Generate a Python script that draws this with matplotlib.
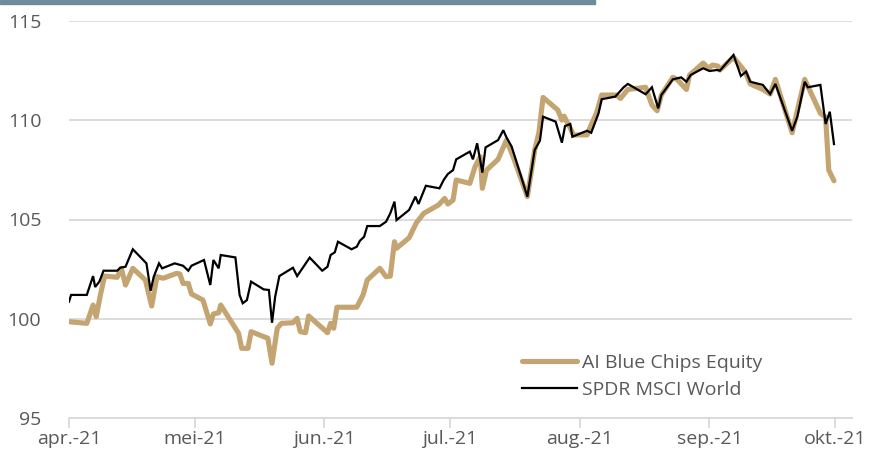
import matplotlib
matplotlib.use("Agg")
import matplotlib.pyplot as plt
import pandas as pd
from matplotlib.patches import Rectangle

# ---- data ----
ai_dates = [
    "2021-04-01 00:00", "2021-04-05 06:00", "2021-04-06 18:00", "2021-04-07 12:00",
    "2021-04-08 12:00", "2021-04-09 12:00", "2021-04-12 12:00", "2021-04-13 12:00",
    "2021-04-14 12:00", "2021-04-16 06:00", "2021-04-19 06:00", "2021-04-20 18:00",
    "2021-04-22 00:00", "2021-04-23 12:00", "2021-04-26 18:00", "2021-04-27 12:00",
    "2021-04-28 06:00", "2021-04-29 12:00", "2021-04-30 06:00", "2021-05-03 00:00",
    "2021-05-04 18:00", "2021-05-05 12:00", "2021-05-06 18:00", "2021-05-07 06:00",
    "2021-05-11 12:00", "2021-05-12 06:00", "2021-05-13 18:00", "2021-05-14 12:00",
    "2021-05-17 12:00", "2021-05-18 12:00", "2021-05-19 12:00", "2021-05-20 18:00",
    "2021-05-21 18:00", "2021-05-24 12:00", "2021-05-25 12:00", "2021-05-26 06:00",
    "2021-05-27 12:00", "2021-05-28 06:00", "2021-06-01 18:00", "2021-06-02 12:00",
    "2021-06-03 06:00", "2021-06-04 00:00", "2021-06-08 18:00", "2021-06-10 06:00",
    "2021-06-11 06:00", "2021-06-14 06:00", "2021-06-15 18:00", "2021-06-16 18:00",
    "2021-06-17 18:00", "2021-06-18 06:00", "2021-06-21 06:00", "2021-06-23 00:00",
    "2021-06-24 18:00", "2021-06-28 06:00", "2021-06-29 18:00", "2021-06-30 12:00",
    "2021-07-01 18:00", "2021-07-02 12:00", "2021-07-05 18:00", "2021-07-07 00:00",
    "2021-07-08 06:00", "2021-07-08 18:00", "2021-07-09 18:00", "2021-07-12 12:00",
    "2021-07-14 12:00", "2021-07-16 06:00", "2021-07-19 12:00", "2021-07-21 06:00",
    "2021-07-22 06:00", "2021-07-23 06:00", "2021-07-26 18:00", "2021-07-27 18:00",
    "2021-07-28 06:00", "2021-07-29 18:00", "2021-07-30 12:00", "2021-08-02 18:00",
    "2021-08-03 18:00", "2021-08-05 00:00", "2021-08-06 06:00", "2021-08-09 18:00",
    "2021-08-10 18:00", "2021-08-12 12:00", "2021-08-16 18:00", "2021-08-18 06:00",
    "2021-08-19 12:00", "2021-08-20 12:00", "2021-08-23 06:00", "2021-08-24 06:00",
    "2021-08-26 12:00", "2021-08-27 06:00", "2021-08-30 12:00", "2021-08-31 18:00",
    "2021-09-01 18:00", "2021-09-03 00:00", "2021-09-03 12:00", "2021-09-06 18:00",
    "2021-09-09 12:00", "2021-09-10 18:00", "2021-09-13 18:00", "2021-09-15 12:00",
    "2021-09-16 18:00", "2021-09-20 18:00", "2021-09-23 18:00", "2021-09-27 12:00",
    "2021-09-28 18:00", "2021-09-29 12:00", "2021-09-30 18:00",
]
ai_values = [
    99.85, 99.77, 100.69, 100.10, 101.20, 102.15, 102.09, 102.54,
    101.70, 102.54, 101.95, 100.64, 102.12, 102.04, 102.29, 102.25,
    101.78, 101.78, 101.25, 100.94, 99.74, 100.24, 100.30, 100.69,
    99.27, 98.51, 98.51, 99.35, 99.10, 99.02, 97.76, 99.52,
    99.77, 99.80, 100.02, 99.35, 99.30, 100.14, 99.30, 99.77,
    99.52, 100.58, 100.58, 101.20, 101.95, 102.54, 102.12, 102.15,
    103.88, 103.55, 104.08, 104.84, 105.31, 105.73, 106.06, 105.78,
    105.98, 106.99, 106.82, 107.66, 108.16, 106.57, 107.49, 108.03,
    109.00, 108.08, 106.15, 108.50, 109.37, 111.15, 110.52, 110.01,
    110.21, 109.60, 109.26, 109.26, 109.77, 110.35, 111.27, 111.27,
    111.10, 111.55, 111.66, 110.77, 110.48, 111.27, 112.16, 112.06,
    111.55, 112.28, 112.88, 112.62, 112.78, 112.73, 112.53, 113.17,
    112.45, 111.83, 111.55, 111.32, 112.06, 109.37, 112.06, 110.35,
    110.15, 107.49, 106.95,
]

spdr_dates = [
    "2021-04-01 00:00", "2021-04-01 12:00", "2021-04-05 06:00", "2021-04-06 18:00",
    "2021-04-07 06:00", "2021-04-08 06:00", "2021-04-09 06:00", "2021-04-12 12:00",
    "2021-04-13 06:00", "2021-04-14 12:00", "2021-04-16 06:00", "2021-04-19 12:00",
    "2021-04-20 12:00", "2021-04-21 06:00", "2021-04-22 12:00", "2021-04-23 06:00",
    "2021-04-26 06:00", "2021-04-28 06:00", "2021-04-29 12:00", "2021-04-30 06:00",
    "2021-05-03 06:00", "2021-05-04 18:00", "2021-05-05 12:00", "2021-05-06 18:00",
    "2021-05-07 06:00", "2021-05-10 18:00", "2021-05-11 18:00", "2021-05-12 12:00",
    "2021-05-13 12:00", "2021-05-14 12:00", "2021-05-17 12:00", "2021-05-18 18:00",
    "2021-05-19 12:00", "2021-05-20 06:00", "2021-05-21 06:00", "2021-05-24 12:00",
    "2021-05-25 12:00", "2021-05-28 12:00", "2021-05-31 12:00", "2021-06-01 18:00",
    "2021-06-02 12:00", "2021-06-03 12:00", "2021-06-04 06:00", "2021-06-07 12:00",
    "2021-06-08 18:00", "2021-06-09 12:00", "2021-06-10 12:00", "2021-06-11 06:00",
    "2021-06-14 06:00", "2021-06-15 18:00", "2021-06-16 18:00", "2021-06-17 18:00",
    "2021-06-18 06:00", "2021-06-21 06:00", "2021-06-22 18:00", "2021-06-23 12:00",
    "2021-06-25 06:00", "2021-06-28 12:00", "2021-06-29 12:00", "2021-06-30 12:00",
    "2021-07-01 18:00", "2021-07-02 12:00", "2021-07-05 18:00", "2021-07-06 12:00",
    "2021-07-07 12:00", "2021-07-08 18:00", "2021-07-09 12:00", "2021-07-12 12:00",
    "2021-07-13 18:00", "2021-07-14 12:00", "2021-07-15 18:00", "2021-07-19 12:00",
    "2021-07-21 06:00", "2021-07-22 12:00", "2021-07-23 06:00", "2021-07-26 06:00",
    "2021-07-27 18:00", "2021-07-28 12:00", "2021-07-29 18:00", "2021-07-30 06:00",
    "2021-08-02 18:00", "2021-08-03 18:00", "2021-08-05 12:00", "2021-08-06 06:00",
    "2021-08-09 12:00", "2021-08-11 12:00", "2021-08-12 12:00", "2021-08-16 18:00",
    "2021-08-18 06:00", "2021-08-19 18:00", "2021-08-20 12:00", "2021-08-23 06:00",
    "2021-08-25 06:00", "2021-08-26 12:00", "2021-08-27 12:00", "2021-08-30 12:00",
    "2021-09-01 00:00", "2021-09-02 18:00", "2021-09-03 12:00", "2021-09-06 18:00",
    "2021-09-08 12:00", "2021-09-09 18:00", "2021-09-10 18:00", "2021-09-13 18:00",
    "2021-09-15 12:00", "2021-09-16 18:00", "2021-09-20 18:00", "2021-09-22 00:00",
    "2021-09-23 18:00", "2021-09-24 12:00", "2021-09-27 12:00", "2021-09-28 18:00",
    "2021-09-29 18:00", "2021-09-30 18:00",
]
spdr_values = [
    100.86, 101.20, 101.20, 102.15, 101.60, 101.87, 102.42, 102.42,
    102.57, 102.62, 103.50, 102.79, 101.41, 102.12, 102.79, 102.54,
    102.79, 102.67, 102.42, 102.67, 102.96, 101.70, 102.96, 102.54,
    103.21, 103.09, 101.20, 100.78, 100.94, 101.87, 101.48, 101.45,
    99.80, 101.11, 102.15, 102.57, 102.15, 103.08, 102.42, 102.62,
    103.21, 103.35, 103.88, 103.50, 103.63, 103.93, 104.13, 104.67,
    104.67, 104.89, 105.31, 105.90, 104.97, 105.48, 106.15, 105.78,
    106.70, 106.57, 106.99, 107.29, 107.49, 108.03, 108.42, 108.03,
    108.84, 107.36, 108.63, 109.00, 109.50, 109.14, 108.67, 106.15,
    108.50, 108.97, 110.18, 109.93, 108.87, 109.71, 109.81, 109.17,
    109.47, 109.37, 110.35, 111.06, 111.19, 111.66, 111.83, 111.31,
    111.66, 110.60, 111.27, 112.06, 112.16, 111.94, 112.28, 112.62,
    112.48, 112.53, 112.50, 113.29, 112.23, 112.45, 111.94, 111.78,
    111.32, 111.83, 109.47, 110.18, 111.94, 111.66, 111.78, 109.81,
    110.43, 108.80,
]

series_names = ["AI Blue Chips Equity", "SPDR MSCI World"]
tick_dates = ["2021-04-01", "2021-05-01", "2021-06-01", "2021-07-01",
              "2021-08-01", "2021-09-01", "2021-10-01"]
tick_labels = ["apr.-21", "mei-21", "jun.-21", "jul.-21", "aug.-21", "sep.-21", "okt.-21"]
y_ticks = [95, 100, 105, 110, 115]

# ---- plot ----
gold = "#C4A571"
grid_c = "#D9D9D9"
text_c = "#595959"

plt.rcParams["font.family"] = ["Open Sans", "DejaVu Sans"]

fig = plt.figure(figsize=(8.72, 4.62), dpi=100)
ax = fig.add_axes([69 / 872, 1 - 418 / 462, (852 - 69) / 872, (418 - 21) / 462])

ai_x = pd.to_datetime(ai_dates)
sp_x = pd.to_datetime(spdr_dates)

ax.plot(ai_x, ai_values, color=gold, lw=3.7, solid_joinstyle="round",
        solid_capstyle="round", label=series_names[0], zorder=3)
ax.plot(sp_x, spdr_values, color="black", lw=1.6, solid_joinstyle="miter",
        label=series_names[1], zorder=4)

x0 = pd.Timestamp("2021-04-01")
ax.set_xlim(x0, x0 + pd.Timedelta(days=(852 - 69) / 4.186))
ax.set_ylim(95, 115)

ax.set_yticks(y_ticks)
ax.set_yticklabels([str(v) for v in y_ticks])
ax.set_xticks(pd.to_datetime(tick_dates))
ax.set_xticklabels(tick_labels)

ax.grid(axis="y", color=grid_c, lw=1.3)
ax.set_axisbelow(True)
for s in ["top", "right", "left"]:
    ax.spines[s].set_visible(False)
ax.spines["bottom"].set_color(grid_c)
ax.spines["bottom"].set_linewidth(1.3)

ax.tick_params(axis="y", length=0, labelsize=14, labelcolor=text_c, pad=20)
ax.tick_params(axis="x", length=7, width=1.3, color=grid_c, labelsize=14,
               labelcolor=text_c, pad=2)

leg = ax.legend(loc="upper left", bbox_to_anchor=(522 / 872, 1 - 354 / 462),
                bbox_transform=fig.transFigure, frameon=False,
                fontsize=14, handlelength=2.85, handletextpad=0.22,
                labelspacing=0.45, borderaxespad=0, borderpad=0)
for t in leg.get_texts():
    t.set_color(text_c)

fig.patches.append(Rectangle((0, 1 - 4 / 462), 595 / 872, 4 / 462,
                             transform=fig.transFigure, color="#6E8C9C",
                             zorder=10))

fig.savefig("out.png", dpi=100)
